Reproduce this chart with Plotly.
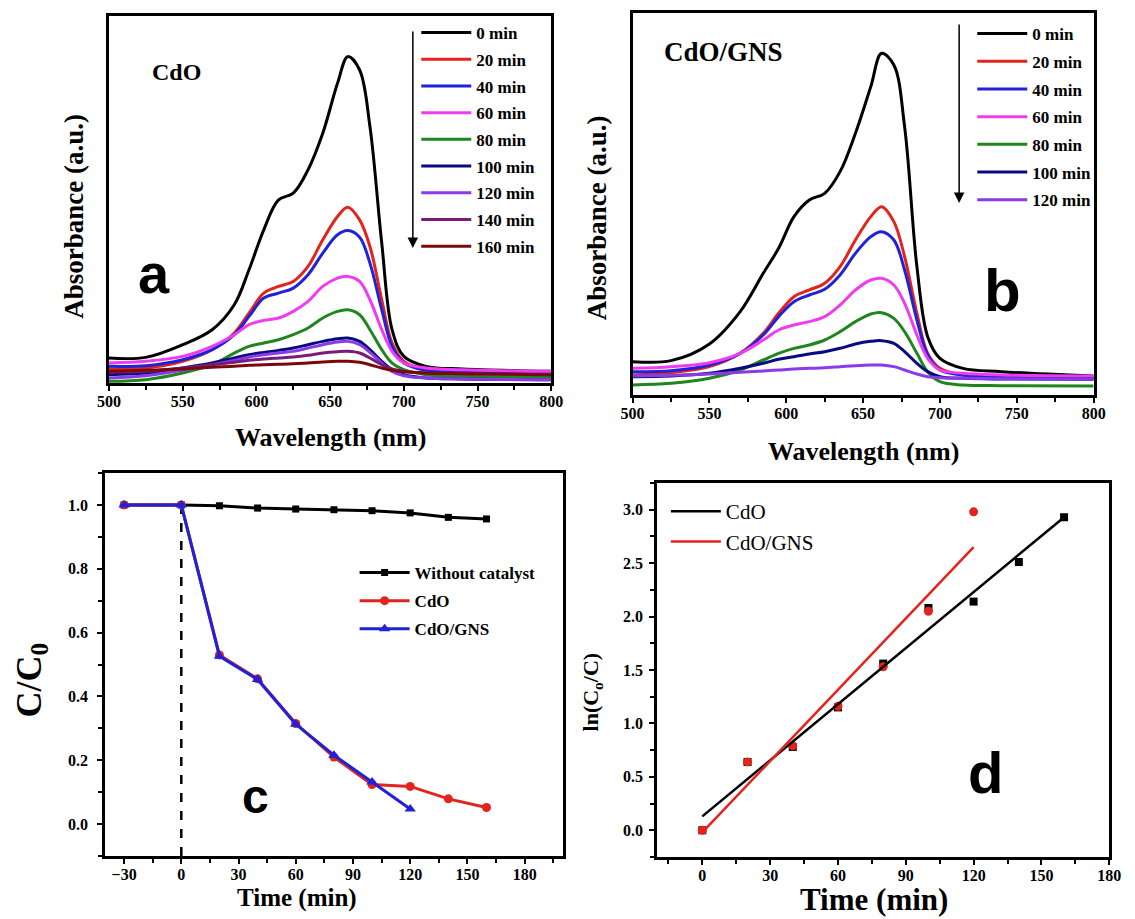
import plotly.graph_objects as go

W, H = 1135, 919
SERIF = "Liberation Serif, Times New Roman, serif"
SANS = "Liberation Sans, Arial, sans-serif"

# ---------------- data ----------------
wavelength = [500, 525, 550, 570, 585, 595, 605, 615, 625, 635, 645, 655, 662, 670, 677, 685, 692, 700, 715, 740, 800]

labels_a = ["0 min", "20 min", "40 min", "60 min", "80 min", "100 min", "120 min", "140 min", "160 min"]
colors_a = ["#000000", "#e3231c", "#1f22d8", "#f03cf0", "#1f861f", "#0a0a80", "#8a3ae6", "#7a1a7a", "#7a0a0a"]
abs_a_0 = [0.075, 0.077, 0.115, 0.16, 0.235, 0.34, 0.46, 0.55, 0.57, 0.64, 0.75, 0.90, 0.98, 0.94, 0.77, 0.42, 0.16, 0.08, 0.05, 0.042, 0.035]
abs_a_20 = [0.042, 0.045, 0.065, 0.10, 0.15, 0.21, 0.27, 0.29, 0.305, 0.35, 0.43, 0.50, 0.528, 0.49, 0.41, 0.25, 0.12, 0.065, 0.04, 0.035, 0.032]
abs_a_40 = [0.05, 0.052, 0.07, 0.10, 0.145, 0.20, 0.255, 0.27, 0.285, 0.325, 0.39, 0.445, 0.458, 0.438, 0.36, 0.22, 0.11, 0.06, 0.038, 0.032, 0.03]
abs_a_60 = [0.06, 0.065, 0.08, 0.11, 0.145, 0.175, 0.188, 0.195, 0.215, 0.245, 0.29, 0.315, 0.32, 0.305, 0.25, 0.16, 0.095, 0.06, 0.045, 0.04, 0.035]
abs_a_80 = [0.005, 0.01, 0.03, 0.055, 0.09, 0.11, 0.12, 0.13, 0.145, 0.165, 0.195, 0.215, 0.22, 0.205, 0.16, 0.10, 0.06, 0.04, 0.025, 0.02, 0.018]
abs_a_100 = [0.025, 0.03, 0.045, 0.06, 0.075, 0.085, 0.092, 0.098, 0.105, 0.115, 0.125, 0.133, 0.135, 0.125, 0.10, 0.065, 0.04, 0.025, 0.015, 0.012, 0.01]
abs_a_120 = [0.015, 0.022, 0.038, 0.055, 0.068, 0.078, 0.085, 0.09, 0.095, 0.105, 0.115, 0.123, 0.125, 0.115, 0.092, 0.06, 0.035, 0.022, 0.015, 0.012, 0.01]
abs_a_140 = [0.032, 0.035, 0.045, 0.055, 0.062, 0.068, 0.072, 0.075, 0.078, 0.083, 0.09, 0.094, 0.095, 0.09, 0.075, 0.055, 0.042, 0.035, 0.03, 0.028, 0.025]
abs_a_160 = [0.035, 0.038, 0.042, 0.047, 0.05, 0.053, 0.055, 0.056, 0.058, 0.06, 0.063, 0.065, 0.065, 0.062, 0.055, 0.045, 0.038, 0.034, 0.03, 0.028, 0.025]
series_a = [abs_a_0, abs_a_20, abs_a_40, abs_a_60, abs_a_80, abs_a_100, abs_a_120, abs_a_140, abs_a_160]

labels_b = ["0 min", "20 min", "40 min", "60 min", "80 min", "100 min", "120 min"]
colors_b = ["#000000", "#e3231c", "#1f22d8", "#f03cf0", "#1f861f", "#0a0a80", "#8a3ae6"]
abs_b_0 = [0.10, 0.103, 0.153, 0.25, 0.365, 0.44, 0.535, 0.585, 0.605, 0.67, 0.785, 0.925, 1.025, 0.99, 0.805, 0.385, 0.175, 0.11, 0.08, 0.07, 0.057]
abs_b_20 = [0.06, 0.067, 0.085, 0.125, 0.185, 0.245, 0.295, 0.315, 0.335, 0.385, 0.465, 0.535, 0.565, 0.52, 0.415, 0.245, 0.125, 0.08, 0.06, 0.055, 0.05]
abs_b_40 = [0.07, 0.073, 0.09, 0.125, 0.18, 0.235, 0.28, 0.30, 0.317, 0.36, 0.425, 0.475, 0.49, 0.465, 0.375, 0.225, 0.12, 0.075, 0.06, 0.055, 0.05]
abs_b_60 = [0.08, 0.085, 0.097, 0.125, 0.165, 0.195, 0.21, 0.22, 0.235, 0.27, 0.315, 0.345, 0.35, 0.33, 0.275, 0.18, 0.11, 0.075, 0.065, 0.06, 0.057]
abs_b_80 = [0.03, 0.035, 0.05, 0.075, 0.105, 0.125, 0.14, 0.15, 0.165, 0.19, 0.22, 0.243, 0.247, 0.23, 0.19, 0.125, 0.07, 0.04, 0.03, 0.028, 0.027]
abs_b_100 = [0.055, 0.057, 0.065, 0.08, 0.095, 0.107, 0.115, 0.123, 0.13, 0.14, 0.153, 0.161, 0.163, 0.155, 0.13, 0.095, 0.07, 0.055, 0.05, 0.048, 0.047]
abs_b_120 = [0.057, 0.059, 0.063, 0.068, 0.072, 0.075, 0.078, 0.08, 0.082, 0.085, 0.088, 0.09, 0.09, 0.085, 0.075, 0.063, 0.055, 0.052, 0.05, 0.049, 0.048]
series_b = [abs_b_0, abs_b_20, abs_b_40, abs_b_60, abs_b_80, abs_b_100, abs_b_120]

# panel c: C/C0 vs time
time_c = [-30, 0, 20, 40, 60, 80, 100, 120, 140, 160]
c_without = [1.0, 1.0, 0.997, 0.99, 0.987, 0.985, 0.982, 0.975, 0.961, 0.956]
time_c_gns = [-30, 0, 20, 40, 60, 80, 100, 120]
c_cdo = [1.0, 1.0, 0.53, 0.455, 0.315, 0.21, 0.124, 0.118, 0.079, 0.052]
c_cdo_gns = [1.0, 1.0, 0.526, 0.453, 0.313, 0.216, 0.132, 0.047]
light_on_x = [0, 0]
light_on_y = [1.0, -0.1]

# panel d: ln(C0/C) vs time
time_d = [0, 20, 40, 60, 80, 100, 120, 140, 160]
ln_cdo = [0.0, 0.64, 0.78, 1.15, 1.56, 2.08, 2.14, 2.51, 2.93]
time_d_gns = [0, 20, 40, 60, 80, 100, 120]
ln_cdo_gns = [0.0, 0.64, 0.79, 1.16, 1.53, 2.05, 2.98]
fit_cdo_x = [0, 160]
fit_cdo_y = [0.13, 2.93]
fit_gns_x = [0, 120]
fit_gns_y = [-0.02, 2.65]


# ---------------- helpers ----------------
def px(x):
    return x / W


def py(y):
    return 1 - y / H


fig = go.Figure()

# panel a
for name, col, vals in zip(labels_a, colors_a, series_a):
    fig.add_trace(go.Scatter(x=wavelength, y=vals, mode="lines", name=name,
                             line=dict(color=col, width=3, shape="spline", smoothing=1.0),
                             xaxis="x", yaxis="y", legend="legend", legendgroup="a" + name))
# panel b
for name, col, vals in zip(labels_b, colors_b, series_b):
    fig.add_trace(go.Scatter(x=wavelength, y=vals, mode="lines", name=name,
                             line=dict(color=col, width=3, shape="spline", smoothing=1.0),
                             xaxis="x2", yaxis="y2", legend="legend2", legendgroup="b" + name))
# panel c
fig.add_trace(go.Scatter(x=light_on_x, y=light_on_y, mode="lines", showlegend=False,
                         line=dict(color="black", width=2.5, dash="dash"), xaxis="x3", yaxis="y3"))
fig.add_trace(go.Scatter(x=time_c, y=c_without, mode="lines+markers", name="Without catalyst",
                         line=dict(color="black", width=3), marker=dict(symbol="square", size=7, color="black"),
                         xaxis="x3", yaxis="y3", legend="legend3", legendgroup="c1"))
fig.add_trace(go.Scatter(x=time_c, y=c_cdo, mode="lines+markers", name="CdO",
                         line=dict(color="#e3231c", width=3), marker=dict(symbol="circle", size=9, color="#e3231c"),
                         xaxis="x3", yaxis="y3", legend="legend3", legendgroup="c2"))
fig.add_trace(go.Scatter(x=time_c_gns, y=c_cdo_gns, mode="lines+markers", name="CdO/GNS",
                         line=dict(color="#1f22d8", width=3), marker=dict(symbol="triangle-up", size=10, color="#1f22d8"),
                         xaxis="x3", yaxis="y3", legend="legend3", legendgroup="c3"))
# panel d
fig.add_trace(go.Scatter(x=time_d, y=ln_cdo, mode="markers", showlegend=False,
                         marker=dict(symbol="square", size=8, color="black"), xaxis="x4", yaxis="y4"))
fig.add_trace(go.Scatter(x=time_d_gns, y=ln_cdo_gns, mode="markers", showlegend=False,
                         marker=dict(symbol="circle", size=9, color="#e3231c"), xaxis="x4", yaxis="y4"))
fig.add_trace(go.Scatter(x=fit_cdo_x, y=fit_cdo_y, mode="lines", name="CdO",
                         line=dict(color="black", width=2.5), xaxis="x4", yaxis="y4",
                         legend="legend4", legendgroup="d1"))
fig.add_trace(go.Scatter(x=fit_gns_x, y=fit_gns_y, mode="lines", name="CdO/GNS",
                         line=dict(color="#e3231c", width=2.5), xaxis="x4", yaxis="y4",
                         legend="legend4", legendgroup="d2"))

tickfont = dict(family=SERIF, size=16, color="black", weight="bold")
common = dict(showline=True, linewidth=2.5, linecolor="black", mirror=True,
              showgrid=False, zeroline=False, tickfont=tickfont,
              tickprefix="<b>", ticksuffix="</b>",
              ticks="outside", ticklen=5, tickwidth=2, tickcolor="black")


def xax(dom, rng, dtick, minor, tick0=0):
    d = dict(common)
    d.update(domain=dom, range=rng, dtick=dtick, tick0=tick0, ticklabelstandoff=-3,
             minor=dict(ticks="outside", ticklen=4, tickwidth=2, tickcolor="black", dtick=minor, tick0=tick0))
    return d


# domains from pixel frame positions
dom_a = dict(x=[px(99), px(551)], y=[py(383), py(15.7)])
dom_b = dict(x=[px(634), px(1105)], y=[py(395), py(13.3)])
dom_c = dict(x=[px(95), px(562.7)], y=[py(856), py(473)])
dom_d = dict(x=[px(659), px(1121)], y=[py(857), py(483)])

ya = dict(showline=True, linewidth=2.5, linecolor="black", mirror=True, showgrid=False,
          zeroline=False, showticklabels=False, ticks="")

layout = dict(
    width=W, height=H, margin=dict(l=0, r=0, t=0, b=0),
    paper_bgcolor="white", plot_bgcolor="white",
    xaxis=dict(xax(dom_a["x"], [500, 800], 50, 25, 500), anchor="y"),
    yaxis=dict(ya, domain=dom_a["y"], range=[0, 1.103], anchor="x"),
    xaxis2=dict(xax(dom_b["x"], [500, 800], 50, 25, 500), anchor="y2"),
    yaxis2=dict(ya, domain=dom_b["y"], range=[0, 1.145], anchor="x2"),
    xaxis3=dict(xax(dom_c["x"], [-40, 200], 30, 15, 0), anchor="y3"),
    yaxis3=dict(common, domain=dom_c["y"], range=[-0.1, 1.1], dtick=0.2, tick0=0, tickformat=".1f",
                ticklabelstandoff=6,
                minor=dict(ticks="outside", ticklen=4, tickwidth=2, tickcolor="black", dtick=0.1, tick0=0),
                anchor="x3"),
    xaxis4=dict(xax(dom_d["x"], [-20, 180], 30, 15, 0), anchor="y4"),
    yaxis4=dict(common, domain=dom_d["y"], range=[-0.25, 3.25], dtick=0.5, tick0=0, tickformat=".1f",
                ticklabelstandoff=3,
                minor=dict(ticks="outside", ticklen=4, tickwidth=2, tickcolor="black", dtick=0.25, tick0=0),
                anchor="x4"),
    showlegend=True,
)

leg_common = dict(xref="paper", yref="paper", xanchor="left", yanchor="top",
                  bgcolor="rgba(0,0,0,0)", borderwidth=0, itemwidth=50, itemclick=False)
layout["legend"] = dict(leg_common, x=px(413), y=py(15), tracegroupgap=1.6,
                        font=dict(family=SERIF, size=17, color="black", weight="bold"))
layout["legend2"] = dict(leg_common, x=px(981), y=py(16), tracegroupgap=2.6,
                         font=dict(family=SERIF, size=17, color="black", weight="bold"))
layout["legend3"] = dict(leg_common, x=px(350), y=py(555), tracegroupgap=3,
                         font=dict(family=SERIF, size=17, color="black", weight="bold"))
layout["legend4"] = dict(leg_common, x=px(668), y=py(491), tracegroupgap=0,
                         font=dict(family=SERIF, size=21, color="black"))

ann = []


def text(x, y, s, size, family=SERIF, bold=True, angle=0):
    ann.append(dict(x=px(x), y=py(y), xref="paper", yref="paper", text=s, showarrow=False,
                    xanchor="center", yanchor="middle", textangle=angle,
                    font=dict(family=family, size=size, color="black", weight="bold" if bold else "normal")))


text(325, 437, "Wavelength (nm)", 26)
text(63, 216, "Absorbance (a.u.)", 27, angle=-90)
text(870, 452, "Wavelength (nm)", 26)
text(598, 218, "Absorbance (a.u.)", 27, angle=-90)
text(291, 898, "Time (min)", 25)
text(19, 680, "C/C<sub>0</sub>", 36, angle=-90)
text(881, 899, "Time (min)", 31)
text(593, 692, "ln(C<sub>o</sub>/C)", 22, angle=-90)
text(168, 72, "CdO", 24)
text(727, 52, "CdO/GNS", 27)
text(145, 273, "a", 56, family=SANS)
text(1012, 290, "b", 60, family=SANS)
text(249, 796, "c", 48, family=SANS)
text(995, 772, "d", 58, family=SANS)

# downward arrows beside the spectra legends
for xa, y0, y1 in [(409.5, 30, 248), (967.6, 23, 203)]:
    ann.append(dict(x=px(xa), y=py(y1), ax=0, ay=-(y1 - y0), xref="paper", yref="paper",
                    axref="pixel", ayref="pixel", text="", showarrow=True,
                    arrowhead=2, arrowsize=1.4, arrowwidth=1.5, arrowcolor="black"))

layout["annotations"] = ann
fig.update_layout(**layout)
fig.write_html("out.html", config={"displayModeBar": False},
               post_script="document.body.style.margin='0';")
